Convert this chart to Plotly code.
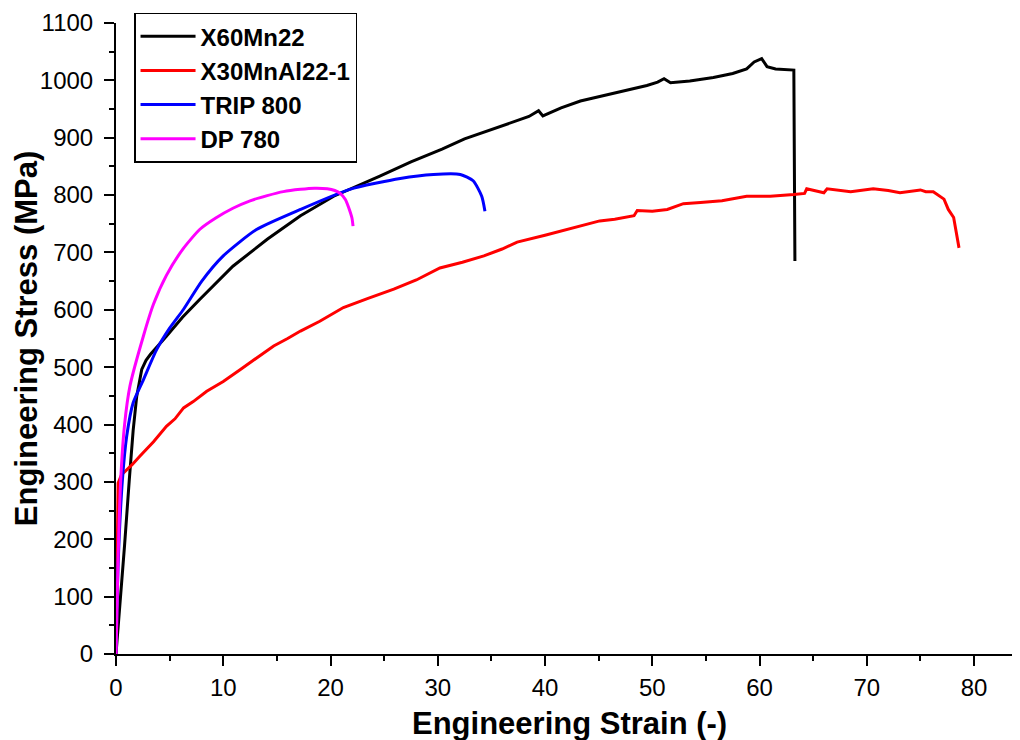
import plotly.graph_objects as go

# ---- data (Engineering strain in %, engineering stress in MPa) ----
x60_strain = [0, 0.07, 0.2, 0.44, 0.8, 1.24, 1.6, 1.93, 2.4, 2.8, 3.2, 4.7, 6.2, 7.8, 10.9, 14.1,
              17.2, 20.3, 22.8, 24.6, 27.5, 30.4, 32.5, 34.6, 36.5, 38.5, 39.4, 39.8, 41.5,
              43.3, 45.1, 47.5, 49.5, 50.5, 51.1, 51.7, 53.5, 55.7, 57.5, 58.8, 59.5, 60.2,
              60.7, 61.5, 63.2, 63.3]
x60_stress = [0, 16, 45, 100, 190, 304, 390, 449, 496, 512, 522, 554, 587, 618, 676, 723,
              764, 798, 818, 833, 858, 880, 898, 912, 925, 937, 947, 938, 952,
              964, 972, 982, 991, 997, 1003, 996, 999, 1005, 1012, 1020, 1032, 1038,
              1024, 1020, 1018, 685]

x30_strain = [0, 0.05, 0.1, 0.2, 0.5, 0.84, 1.5, 2.24, 3.5, 4.7, 5.5, 6.3, 7.2, 8.46, 10,
              11.6, 13, 14.7, 16, 17.2, 19, 21.2, 23.5, 25.9, 28, 30.2, 32.3, 34.3, 36,
              37.4, 40, 42, 44, 45.1, 46.5, 48.3, 48.6, 50, 51.4, 52.9, 54.5, 56.5, 58.8,
              61, 63.2, 64.2, 64.4, 65.5, 66, 66.3, 67.5, 68.5, 70.6, 72, 73.1, 74, 75,
              75.5, 76.2, 77.2, 77.6, 78.1, 78.6]
x30_stress = [0, 37, 150, 298, 312, 318, 330, 345, 370, 397, 410, 429, 440, 458, 475,
              496, 515, 537, 550, 563, 580, 604, 620, 636, 652, 673, 683, 694, 706,
              718, 730, 740, 750, 755, 758, 764, 773, 772, 775, 785, 787, 790, 798,
              798, 801, 803, 811, 806, 804, 811, 808, 806, 811, 808, 804, 806, 809,
              806, 806, 793, 775, 761, 708]

trip_strain = [0, 0.2, 0.6, 1.0, 1.6, 2.55, 3.8, 5.0, 6.3, 8.0, 10, 13.1, 17.2, 21.8, 26.5,
               29.6, 32.1, 33.3, 34.1, 34.4]
trip_stress = [0, 158, 304, 380, 438, 478, 531, 568, 601, 650, 694, 740, 775, 810, 829,
               836, 836, 825, 798, 772]

dp_strain = [0, 0.05, 0.2, 0.44, 0.8, 1.3, 2.55, 3.5, 4.7, 6.2, 7.8, 9.3, 10.9, 12.5, 14.1,
             15.6, 17.2, 18.5, 19.7, 20.4, 20.9, 21.4, 21.7, 22.0, 22.1]
dp_stress = [0, 42, 170, 304, 400, 467, 554, 610, 660, 705, 740, 760, 777, 790, 799,
             806, 810, 812, 811, 808, 803, 792, 778, 760, 746]

series_names = ["X60Mn22", "X30MnAl22-1", "TRIP 800", "DP 780"]
series_colors = ["#000000", "#FF0000", "#0000FF", "#FF00FF"]
series_shapes = ["linear", "linear", "spline", "spline"]
series_data = [(x60_strain, x60_stress), (x30_strain, x30_stress),
               (trip_strain, trip_stress), (dp_strain, dp_stress)]

x_tickvals = [0, 10, 20, 30, 40, 50, 60, 70, 80]
y_tickvals = [0, 100, 200, 300, 400, 500, 600, 700, 800, 900, 1000, 1100]

FONT = "Arial, Liberation Sans, Helvetica, sans-serif"

fig = go.Figure()
for name, color, shape, (xs, ys) in zip(series_names, series_colors, series_shapes, series_data):
    fig.add_trace(go.Scatter(x=xs, y=ys, mode="lines", name=name,
                             line=dict(color=color, width=3, shape=shape, smoothing=0.6)))

axis_common = dict(
    showline=True, linewidth=2, linecolor="black", showgrid=False, zeroline=False,
    ticks="outside", ticklen=10, tickwidth=2, tickcolor="black",
    tickfont=dict(family=FONT, size=24, color="black"),
)

fig.update_xaxes(range=[0, 84.1], tickvals=x_tickvals, ticklabelstandoff=1, **axis_common,
                 minor=dict(dtick=5, tick0=0, ticks="outside", ticklen=5, tickwidth=2,
                            tickcolor="black", showgrid=False))
fig.update_yaxes(range=[0, 1100], tickvals=y_tickvals, ticklabelstandoff=6, **axis_common,
                 minor=dict(dtick=50, tick0=0, ticks="outside", ticklen=5, tickwidth=2,
                            tickcolor="black", showgrid=False))

fig.add_annotation(text="Engineering Strain (-)", xref="paper", yref="paper",
                   x=0.503, y=-0.11, xanchor="center", yanchor="middle", showarrow=False,
                   font=dict(family=FONT, size=31, color="black", weight="bold"))
fig.add_annotation(text="Engineering Stress (MPa)", xref="paper", yref="paper",
                   x=-0.099, y=0.5, xanchor="center", yanchor="middle", showarrow=False,
                   textangle=-90,
                   font=dict(family=FONT, size=31, color="black", weight="bold"))

# page body adds an 8px offset, so the figure is sized to fit inside the 1020x740 window
fig.update_layout(
    width=1012, height=732,
    margin=dict(l=108, r=2, t=15, b=86, autoexpand=False),
    plot_bgcolor="white", paper_bgcolor="white",
    showlegend=True,
    legend=dict(x=0.02, y=1.0165, xanchor="left", yanchor="top",
                bordercolor="black", borderwidth=1.5, bgcolor="white",
                font=dict(family=FONT, size=24, color="black", weight="bold"),
                itemwidth=55, tracegroupgap=0),
)

fig.write_html("out.html")
